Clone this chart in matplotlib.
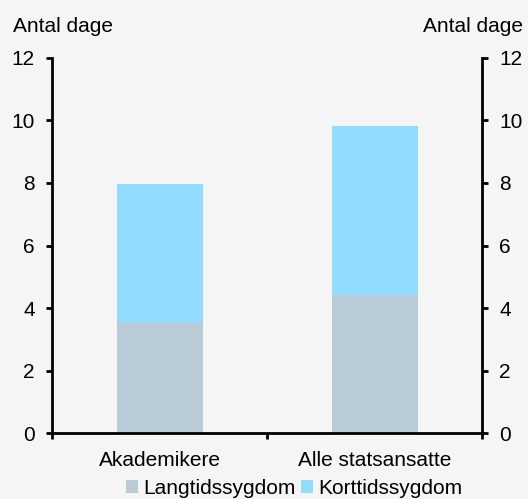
import matplotlib.pyplot as plt
import numpy as np

plt.rcParams['font.family'] = ['Liberation Sans', 'DejaVu Sans']

categories = ['Akademikere', 'Alle statsansatte']
langtid = [3.52, 4.43]
korttid = [4.46, 5.39]
series_names = ['Langtidssygdom', 'Korttidssygdom']
colors = ['#b9cbd6', '#92dcff']
yticks = [0, 2, 4, 6, 8, 10, 12]

bg = '#f5f5f5'
fig = plt.figure(figsize=(5.28, 4.99), dpi=100, facecolor=bg)
ax = fig.add_axes([0.0985, 0.132, 0.8145, 0.752], facecolor=bg)

x = np.arange(len(categories))
ax.bar(x, langtid, width=0.4, color=colors[0], label=series_names[0])
ax.bar(x, korttid, width=0.4, bottom=langtid, color=colors[1], label=series_names[1])

ax.set_xlim(-0.5, 1.5)
ax.set_ylim(0, 12)
ax.set_yticks(yticks)
# kategorigrænser som store streger, navne som små
ax.set_xticks([-0.5, 0.5, 1.5])
ax.set_xticklabels([])
ax.set_xticks(x, minor=True)
ax.set_xticklabels(categories, minor=True)
ax.tick_params(axis='x', which='minor', length=0, pad=13, labelsize=15)
ax.tick_params(axis='x', which='major', length=4.5, width=2, direction='out')
ax.tick_params(axis='y', which='major', length=4.5, width=2, direction='out',
               labelsize=15, pad=8, left=True, right=True,
               labelleft=True, labelright=True)

ax.spines['top'].set_visible(False)
for side in ['left', 'right', 'bottom']:
    ax.spines[side].set_linewidth(2)

fig.text(0.025, 0.935, 'Antal dage', fontsize=15, ha='left', va='baseline')
fig.text(0.99, 0.935, 'Antal dage', fontsize=15, ha='right', va='baseline')

ax.legend(loc='upper center', bbox_to_anchor=(0.563, -0.1), ncol=2, frameon=False,
          fontsize=15, handlelength=0.55, handleheight=0.55, handletextpad=0.25,
          columnspacing=0.3, borderaxespad=0)

fig.savefig('out.png', dpi=100, facecolor=bg)
